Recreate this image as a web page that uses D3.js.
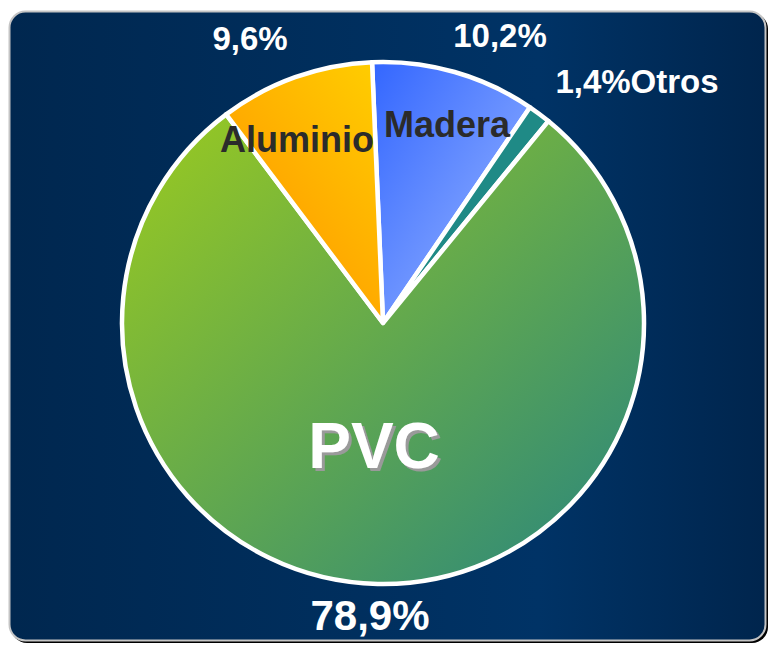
<!DOCTYPE html>
<html>
<head>
<meta charset="utf-8">
<script src="https://cdn.jsdelivr.net/npm/d3@7"></script>
<style>
  body { margin: 0; background: #ffffff; }
  svg { display: block; font-family: "Liberation Sans", Arial, sans-serif; }
</style>
</head>
<body>
<div id="chart"></div>
<script>
// data
const categories = ['Madera', 'Otros', 'PVC', 'Aluminio'];
const values = [10.2, 1.4, 78.9, 9.6];
const pctLabels = ['10,2%', '1,4%', '78,9%', '9,6%'];

const w = 769, h = 645;
const cx = 383, cy = 323, radius = 261;

const svg = d3.select('#chart').append('svg')
  .attr('width', w)
  .attr('height', h);

const defs = svg.append('defs');

// background gradient
const bg = defs.append('linearGradient').attr('id', 'bg')
  .attr('x1', 0).attr('x2', 1).attr('y1', 0).attr('y2', 0);
bg.append('stop').attr('offset', '0%').attr('stop-color', '#00274f');
bg.append('stop').attr('offset', '70%').attr('stop-color', '#003366');
bg.append('stop').attr('offset', '100%').attr('stop-color', '#00254d');

// shadow for the big PVC label
const shadow = defs.append('filter').attr('id', 'txtShadow')
  .attr('x', '-10%').attr('y', '-10%').attr('width', '130%').attr('height', '130%');
shadow.append('feDropShadow')
  .attr('dx', 3).attr('dy', 3).attr('stdDeviation', 0)
  .attr('flood-color', '#9a9a9a').attr('flood-opacity', 1);

// slice gradients (top-left -> bottom-right)
const gradStops = {
  Madera: ['#3366ff', '#9dbaff'],
  Otros: ['#1f8a86', '#1f8a86'],
  PVC: ['#9ccb1e', '#27857f'],
  Aluminio: ['#ffcc00', '#ff9000']
};
categories.forEach(c => {
  const g = defs.append('linearGradient').attr('id', 'g-' + c);
  if (c === 'Aluminio') {
    g.attr('x1', 0.9).attr('y1', 0).attr('x2', 0.1).attr('y2', 1);
  } else {
    g.attr('x1', 0).attr('y1', 0).attr('x2', 1).attr('y2', 1);
  }
  g.append('stop').attr('offset', '0%').attr('stop-color', gradStops[c][0]);
  g.append('stop').attr('offset', '100%').attr('stop-color', gradStops[c][1]);
});

// panel
svg.append('rect')
  .attr('x', 11).attr('y', 13).attr('width', 757).attr('height', 630)
  .attr('rx', 16).attr('fill', '#000');
svg.append('rect')
  .attr('x', 9.5).attr('y', 11.5).attr('width', 756).attr('height', 629)
  .attr('rx', 16).attr('fill', 'url(#bg)')
  .attr('stroke', '#c4c4c4').attr('stroke-width', 2);

// pie
const pie = d3.pie()
  .sort(null)
  .startAngle(-0.042)
  .endAngle(2 * Math.PI - 0.042);
const arc = d3.arc().innerRadius(0).outerRadius(radius);

const data = pie(values);
const g = svg.append('g').attr('transform', 'translate(' + cx + ',' + cy + ')');

g.selectAll('path')
  .data(data)
  .enter()
  .append('path')
  .attr('d', arc)
  .attr('fill', (d, i) => 'url(#g-' + categories[i] + ')')
  .attr('stroke', '#ffffff')
  .attr('stroke-width', 4.5)
  .attr('stroke-linejoin', 'round');

// labels
const labelPos = {
  Madera: { pct: [500, 47], name: [447, 137] },
  Otros: { pct: [637, 93] },
  PVC: { pct: [370, 630], name: [374, 468] },
  Aluminio: { pct: [250, 50], name: [297, 152] }
};

categories.forEach((c, i) => {
  const p = labelPos[c];
  const txt = c === 'Otros' ? pctLabels[i] + 'Otros' : pctLabels[i];
  svg.append('text')
    .attr('x', p.pct[0]).attr('y', p.pct[1])
    .attr('text-anchor', 'middle')
    .attr('font-weight', 'bold')
    .attr('font-size', c === 'PVC' ? 42 : 33)
    .attr('fill', '#ffffff')
    .text(txt);
  if (!p.name) return;
  if (c === 'PVC') {
    svg.append('text')
      .attr('x', p.name[0]).attr('y', p.name[1])
      .attr('text-anchor', 'middle').attr('font-weight', 'bold')
      .attr('font-size', 64).attr('fill', '#ffffff')
      .attr('filter', 'url(#txtShadow)')
      .text(c);
  } else {
    svg.append('text')
      .attr('x', p.name[0]).attr('y', p.name[1])
      .attr('text-anchor', 'middle').attr('font-weight', 'bold')
      .attr('font-size', 36).attr('fill', '#2b2b2b')
      .text(c);
  }
});
</script>
</body>
</html>
